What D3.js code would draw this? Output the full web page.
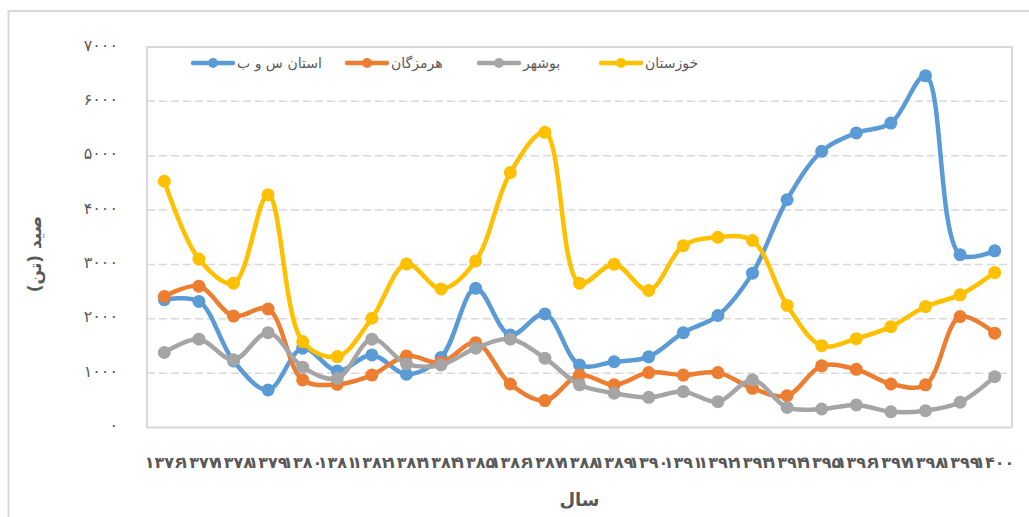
<!DOCTYPE html>
<html>
<head>
<meta charset="utf-8">
<script src="https://cdn.jsdelivr.net/npm/d3@7"></script>
<style>
  body { margin: 0; background: #fff; }
  text { font-family: "DejaVu Sans", sans-serif; }
</style>
</head>
<body>
<svg id="chart" width="1029" height="517"></svg>
<script>
const years = d3.range(1376, 1401);
const seriesNames = ["استان س و ب", "هرمزگان", "بوشهر", "خوزستان"];
const seriesColors = ["#5B9BD5", "#ED7D31", "#A5A5A5", "#FFC000"];

const sistan = [2350, 2320, 1225, 690, 1460, 1040, 1335, 980, 1290, 2560, 1700, 2090,
  1150, 1210, 1300, 1745, 2060, 2840, 4190, 5080, 5420, 5600, 6470, 3180, 3250];
const hormozgan = [2410, 2600, 2050, 2180, 875, 795, 965, 1315, 1195, 1560, 800, 495,
  965, 785, 1010, 965, 1010, 720, 585, 1135, 1070, 800, 785, 2040, 1735];
const bushehr = [1380, 1625, 1245, 1745, 1110, 905, 1625, 1170, 1150, 1460, 1625, 1275,
  785, 630, 555, 660, 475, 875, 370, 340, 415, 290, 310, 465, 935];
const khuzestan = [4530, 3100, 2655, 4280, 1580, 1305, 2010, 3010, 2550, 3065, 4690, 5430,
  2655, 3005, 2520, 3345, 3500, 3440, 2245, 1505, 1635, 1855, 2225, 2440, 2850];

const yTicks = [0, 1000, 2000, 3000, 4000, 5000, 6000, 7000];
const series = [sistan, hormozgan, bushehr, khuzestan];

const fa = (n) => String(n).replace(/\d/g, (c) => "۰۱۲۳۴۵۶۷۸۹"[c]);

const svg = d3.select("#chart");
const plotLeft = 147, plotRight = 1012, plotTop = 47, plotBottom = 427.5;

const x = d3.scaleBand().domain(years).range([plotLeft, plotRight]).padding(0);
const y = d3.scaleLinear().domain([0, 7000]).range([plotBottom, plotTop]);
const cx = (d) => x(d) + x.bandwidth() / 2;

// outer chart border
svg.append("rect")
  .attr("x", 8.5).attr("y", 11).attr("width", 1040).attr("height", 530)
  .attr("fill", "none").attr("stroke", "#d9d9d9").attr("stroke-width", 2);

// gridlines
svg.append("g")
  .selectAll("line")
  .data(yTicks.slice(1, -1))
  .join("line")
  .attr("x1", plotLeft).attr("x2", plotRight)
  .attr("y1", (d) => y(d)).attr("y2", (d) => y(d))
  .attr("stroke", "#d9d9d9")
  .attr("stroke-width", 1.5)
  .attr("stroke-dasharray", "8,4");

// plot area border
svg.append("rect")
  .attr("x", plotLeft).attr("y", plotTop)
  .attr("width", plotRight - plotLeft).attr("height", plotBottom - plotTop)
  .attr("fill", "none").attr("stroke", "#d9d9d9").attr("stroke-width", 2);

// y tick labels
svg.append("g")
  .selectAll("text")
  .data(yTicks)
  .join("text")
  .attr("x", 118)
  .attr("y", (d) => y(d) - 2)
  .attr("text-anchor", "end")
  .attr("dy", ".35em")
  .attr("fill", "#595959")
  .attr("font-size", "16px")
  .attr("letter-spacing", "3px")
  .text((d) => fa(d));

// x tick labels
svg.append("g")
  .selectAll("text")
  .data(years)
  .join("text")
  .attr("x", (d) => cx(d))
  .attr("y", 462)
  .attr("text-anchor", "middle")
  .attr("dy", ".35em")
  .attr("fill", "#595959")
  .attr("font-size", "16px")
  .attr("font-weight", "bold")
  .text((d) => fa(d));

// axis titles
svg.append("text")
  .attr("x", (plotLeft + plotRight) / 2)
  .attr("y", 500)
  .attr("text-anchor", "middle")
  .attr("dy", ".35em")
  .attr("fill", "#595959")
  .attr("font-size", "18px")
  .attr("font-weight", "bold")
  .text("سال");

svg.append("text")
  .attr("transform", "translate(35, 254) rotate(-90)")
  .attr("text-anchor", "middle")
  .attr("dy", ".35em")
  .attr("fill", "#595959")
  .attr("font-size", "17px")
  .attr("font-weight", "bold")
  .text("صید (تن)");

// series
const line = d3.line()
  .x((d, i) => cx(years[i]))
  .y((d) => y(d))
  .curve(d3.curveCatmullRom.alpha(0.5));

series.forEach((vals, s) => {
  const g = svg.append("g").attr("class", "series");
  g.append("path")
    .attr("d", line(vals))
    .attr("fill", "none")
    .attr("stroke", seriesColors[s])
    .attr("stroke-width", 4.5)
    .attr("stroke-linejoin", "round");
  g.selectAll("circle")
    .data(vals)
    .join("circle")
    .attr("cx", (d, i) => cx(years[i]))
    .attr("cy", (d) => y(d))
    .attr("r", 6.5)
    .attr("fill", seriesColors[s]);
});

// legend
const legendX = [193, 347, 479, 601];
const legend = svg.append("g")
  .selectAll("g")
  .data(seriesNames)
  .join("g")
  .attr("transform", (d, i) => `translate(${legendX[i]}, 63)`);

legend.append("line")
  .attr("x1", 0).attr("x2", 40)
  .attr("stroke", (d, i) => seriesColors[i])
  .attr("stroke-width", 4.5)
  .attr("stroke-linecap", "round");

legend.append("circle")
  .attr("cx", 20)
  .attr("r", 5)
  .attr("fill", (d, i) => seriesColors[i]);

legend.append("text")
  .attr("x", 44)
  .attr("dy", ".35em")
  .attr("fill", "#595959")
  .attr("font-size", "14px")
  .attr("text-anchor", "start")
  .text((d) => d);
</script>
</body>
</html>
